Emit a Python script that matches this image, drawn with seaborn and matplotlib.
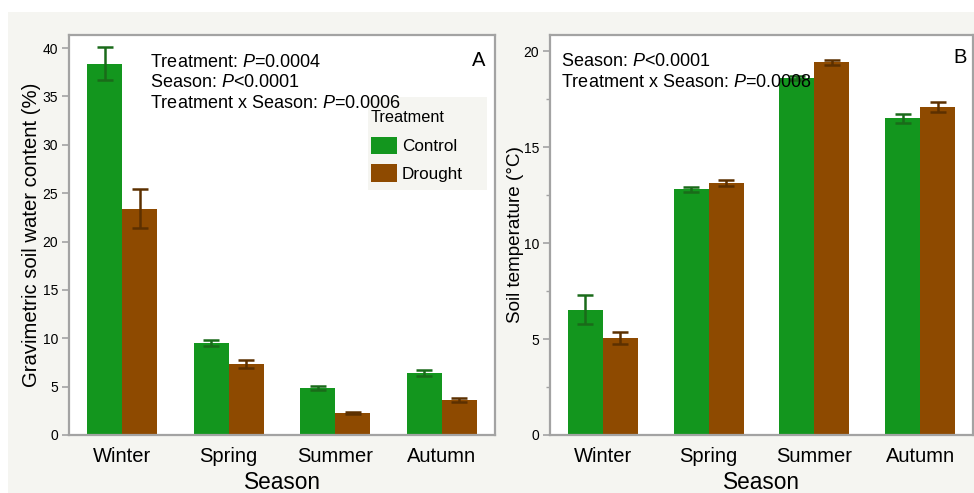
import numpy as np
import pandas as pd
import matplotlib
matplotlib.use("Agg")
import matplotlib.pyplot as plt
import seaborn as sns
from matplotlib.patches import Patch, Rectangle

sns.set_theme(style="white")
plt.rcParams["font.family"] = ["Liberation Sans", "DejaVu Sans"]
plt.rcParams["mathtext.fontset"] = "custom"
plt.rcParams["mathtext.it"] = "Liberation Sans:italic"
plt.rcParams["mathtext.rm"] = "Liberation Sans"
for key in ["text.color", "axes.labelcolor", "xtick.labelcolor", "ytick.labelcolor"]:
    plt.rcParams[key] = "black"

seasons = ["Winter", "Spring", "Summer", "Autumn"]
treatments = ["Control", "Drought"]

# Gravimetric soil water content (%), mean and SE
swc_control = [38.4, 9.5, 4.86, 6.4]
swc_control_se = [1.7, 0.3, 0.2, 0.3]
swc_drought = [23.4, 7.35, 2.27, 3.6]
swc_drought_se = [2.05, 0.4, 0.1, 0.2]

# Soil temperature (°C), mean and SE
temp_control = [6.53, 12.8, 18.6, 16.5]
temp_control_se = [0.75, 0.12, 0.1, 0.25]
temp_drought = [5.06, 13.15, 19.42, 17.1]
temp_drought_se = [0.33, 0.15, 0.15, 0.25]

colors = {"Control": "#13961e", "Drought": "#8e4a00"}
err_colors = {"Control": "#1a6b1a", "Drought": "#5c3000"}
bg = "#f5f5f1"
frame = "#a3a3a3"


def make_df(ctrl, ctrl_se, drt, drt_se):
    return pd.DataFrame({
        "Season": seasons * 2,
        "Treatment": ["Control"] * 4 + ["Drought"] * 4,
        "value": list(ctrl) + list(drt),
        "se": list(ctrl_se) + list(drt_se),
    })


def draw_panel(ax, df, ymax, ylabel, ylabel_size, label_x, minor=False):
    sns.barplot(data=df, x="Season", y="value", hue="Treatment",
                order=seasons, hue_order=treatments, palette=colors,
                errorbar=None, width=0.66, saturation=1, ax=ax,
                linewidth=0, legend=False)
    # error bars on top of each bar, taken from the bar geometry
    bars = [p for p in ax.patches if p.get_height() > 0]
    bars = sorted(bars, key=lambda p: p.get_x())
    vals = df.set_index(["Season", "Treatment"])
    for i, p in enumerate(bars):
        season = seasons[i // 2]
        trt = treatments[i % 2]
        row = vals.loc[(season, trt)]
        xc = p.get_x() + p.get_width() / 2
        ax.errorbar(xc, row["value"], yerr=row["se"], fmt="none",
                    ecolor=err_colors[trt], elinewidth=1.8, capsize=6,
                    capthick=1.8, zorder=5)
    ax.set_xlim(-0.5, 3.5)
    ax.set_ylim(0, ymax)
    ax.set_facecolor("white")
    for s in ax.spines.values():
        s.set_visible(True)
        s.set_color(frame)
        s.set_linewidth(1.6)
    ax.tick_params(axis="y", which="major", left=True, length=5, width=1.2,
                   color=frame, labelsize=10, pad=3)
    ax.tick_params(axis="x", which="both", bottom=False, length=0,
                   labelsize=14.5, pad=8.5)
    ax.set_xlabel("Season", fontsize=16.3, labelpad=4)
    ax.set_ylabel(ylabel, fontsize=ylabel_size)
    ax.yaxis.set_label_coords(label_x, 0.5)
    if minor:
        ax.set_yticks(np.arange(2.5, ymax, 5), minor=True)
        ax.tick_params(axis="y", which="minor", left=True, length=3,
                       width=1.0, color=frame)


fig = plt.figure(figsize=(9.74, 4.93), dpi=100)
fig.patch.set_facecolor(bg)
# white margins along the top and left edges
fig.patches.append(Rectangle((0, 1 - 12 / 493), 1, 12 / 493,
                             transform=fig.transFigure, facecolor="white",
                             edgecolor="none", zorder=0))
fig.patches.append(Rectangle((0, 0), 8 / 974, 1, transform=fig.transFigure,
                             facecolor="white", edgecolor="none", zorder=0))

axA = fig.add_axes([69 / 974, 1 - 435 / 493, 426 / 974, 400 / 493])
axB = fig.add_axes([550 / 974, 1 - 435 / 493, 423 / 974, 400 / 493])

dfA = make_df(swc_control, swc_control_se, swc_drought, swc_drought_se)
dfB = make_df(temp_control, temp_control_se, temp_drought, temp_drought_se)

draw_panel(axA, dfA, 41.35, "Gravimetric soil water content (%)", 14.6, -0.065)
axA.set_yticks(np.arange(0, 41, 5))
draw_panel(axB, dfB, 20.85, "Soil temperature (\u00b0C)", 13.6, -0.062, minor=True)
axB.set_yticks(np.arange(0, 21, 5))

ann = dict(fontsize=13, va="baseline", ha="left", zorder=6)
axA.text(0.190, 0.920, r"Treatment: $\it{P}$=0.0004", transform=axA.transAxes, **ann)
axA.text(0.190, 0.870, r"Season: $\it{P}$<0.0001", transform=axA.transAxes, **ann)
axA.text(0.190, 0.8175, r"Treatment x Season: $\it{P}$=0.0006", transform=axA.transAxes, **ann)
axA.text(0.962, 0.9225, "A", transform=axA.transAxes, fontsize=14.5,
         va="baseline", ha="center")

axB.text(0.026, 0.923, r"Season: $\it{P}$<0.0001", transform=axB.transAxes, **ann)
axB.text(0.026, 0.869, r"Treatment x Season: $\it{P}$=0.0008", transform=axB.transAxes, **ann)
axB.text(0.969, 0.930, "B", transform=axB.transAxes, fontsize=14.5,
         va="baseline", ha="center")

# legend panel: shaded box with the treatment key inside it
axA.add_patch(Rectangle(((368 - 69) / 426, (435 - 190) / 400), 119 / 426, 93 / 400,
                        transform=axA.transAxes, facecolor=bg, edgecolor="none",
                        zorder=3))
handles = [Patch(facecolor=colors[t], edgecolor="none", label=t) for t in treatments]
leg = axA.legend(handles=handles, title="Treatment", loc="upper left",
                 bbox_to_anchor=((371 - 69) / 426, (435 - 110) / 400),
                 frameon=False, fontsize=12.3, title_fontsize=11.7,
                 handlelength=1.52, handleheight=1.2, handletextpad=0.3,
                 labelspacing=0.58, borderpad=0, borderaxespad=0,
                 alignment="left")
leg._legend_box.sep = 8.5
leg.set_zorder(4)

fig.savefig("out.png", dpi=100, facecolor=bg)
